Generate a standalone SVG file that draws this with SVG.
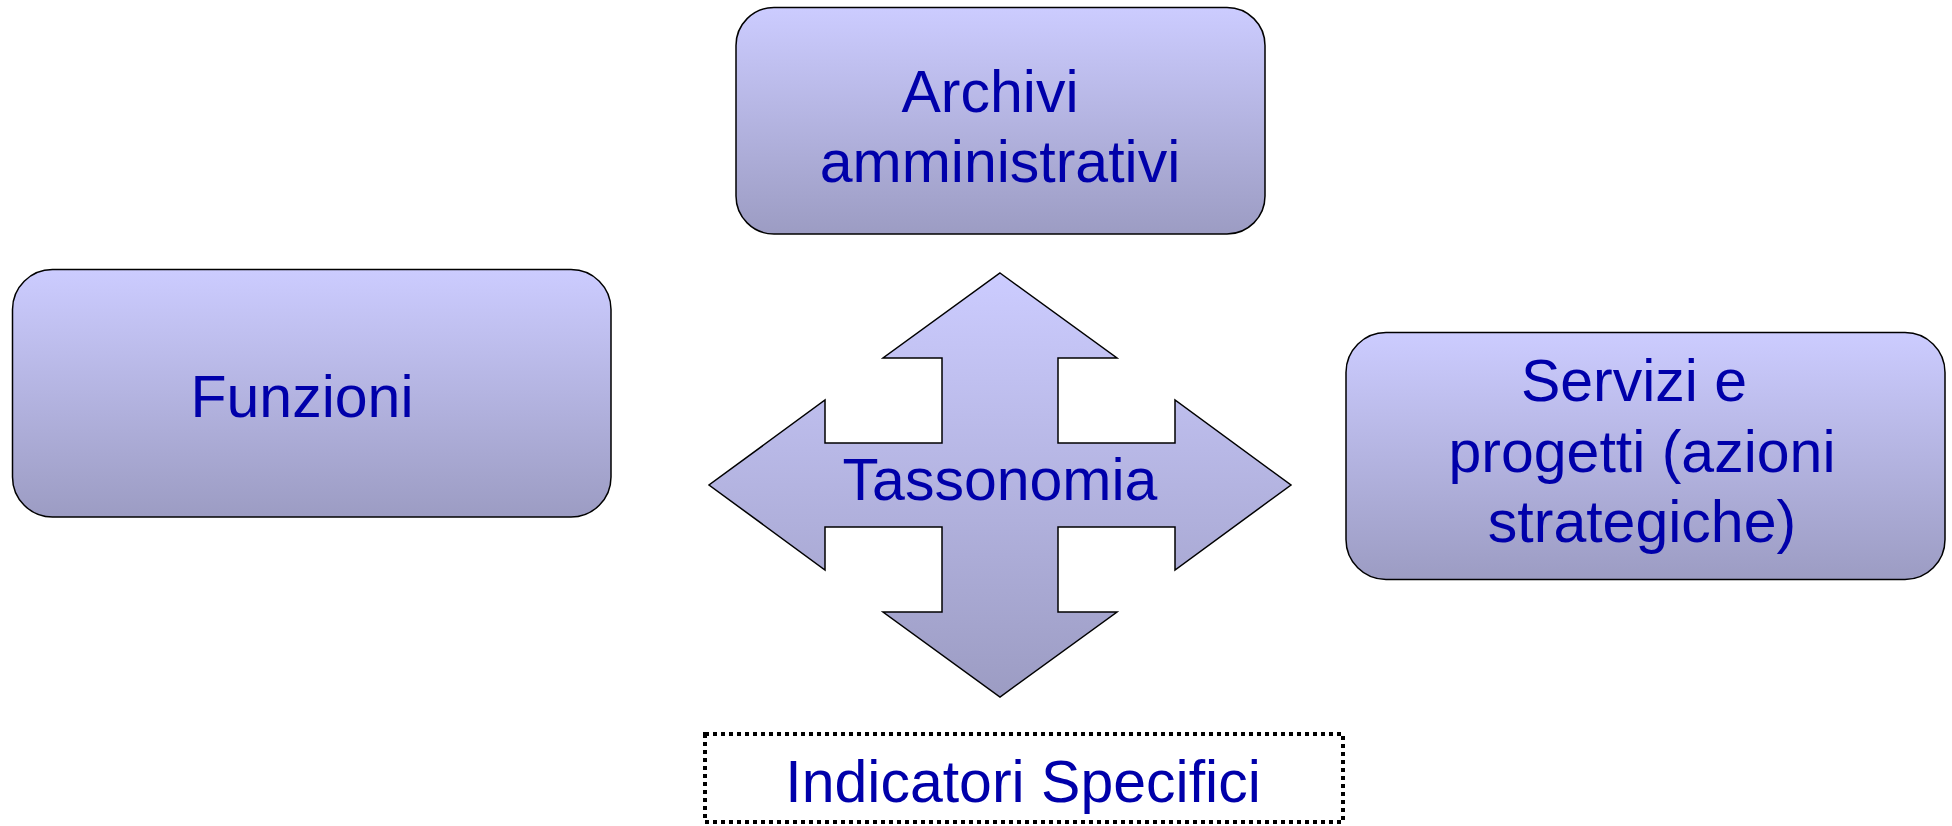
<svg xmlns="http://www.w3.org/2000/svg" width="1952" height="826" viewBox="0 0 1952 826">
<defs>
<linearGradient id="g" x1="0" y1="0" x2="0" y2="1">
<stop offset="0" stop-color="#ccccff"/>
<stop offset="1" stop-color="#9c9cc3"/>
</linearGradient>
<style>
.box{fill:url(#g);stroke:#000;stroke-width:1.5}
.t{font-family:"Liberation Sans",Arial,sans-serif;font-size:59px;fill:#0000aa;text-anchor:middle}
</style>
</defs>
<rect width="1952" height="826" fill="#fff"/>
<g id="archivi">
<rect class="box" x="736" y="7.5" width="529" height="226.5" rx="38" ry="38"/>
<text class="t" x="990" y="112">Archivi</text>
<text class="t" x="1000" y="182">amministrativi</text>
</g>
<g id="funzioni">
<rect class="box" x="12.5" y="269.5" width="598.5" height="247.5" rx="40" ry="40"/>
<text class="t" x="302" y="417">Funzioni</text>
</g>
<g id="servizi">
<rect class="box" x="1346" y="332.5" width="599" height="247" rx="40" ry="40"/>
<text class="t" x="1634" y="401">Servizi e</text>
<text class="t" x="1642" y="472">progetti (azioni</text>
<text class="t" x="1642" y="542">strategiche)</text>
</g>
<g id="tassonomia">
<path class="box" d="M1000,273 L1117,358 L1058,358 L1058,443 L1175,443 L1175,400 L1291,485 L1175,570 L1175,527 L1058,527 L1058,612 L1117,612 L1000,697 L883,612 L942,612 L942,527 L825,527 L825,570 L709,485 L825,400 L825,443 L942,443 L942,358 L883,358 Z"/>
<text class="t" x="1000" y="500">Tassonomia</text>
</g>
<g id="indicatori">
<rect x="705" y="734" width="638" height="88" fill="none" stroke="#000" stroke-width="4" stroke-dasharray="4 4"/>
<text class="t" x="1023" y="802">Indicatori Specifici</text>
</g>
<g id="connectors"></g>
</svg>
